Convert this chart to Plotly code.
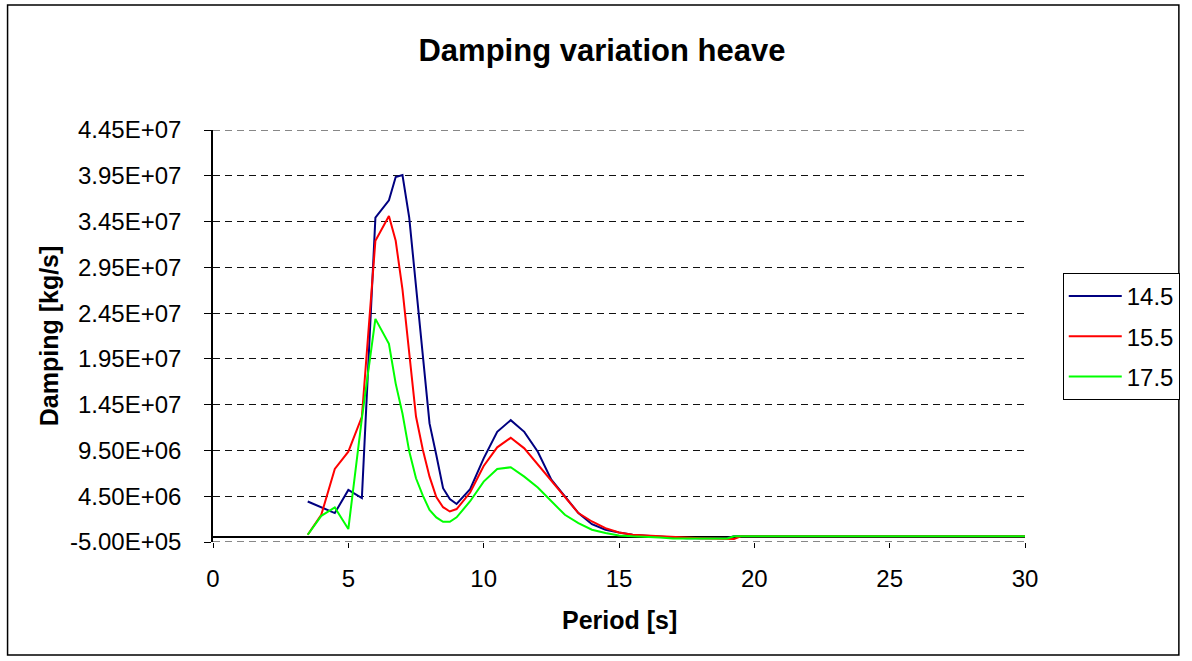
import plotly.graph_objects as go

# period [s]
period = [3.5, 4.0, 4.5, 5.0, 5.5, 6.0, 6.5, 6.75, 7.0, 7.25, 7.5, 7.75, 8.0, 8.25,
          8.5, 8.75, 9.0, 9.5, 10.0, 10.5, 11.0, 11.5, 12.0, 12.5, 13.0, 13.5, 14.0,
          14.5, 15.0, 15.5, 16.0, 16.5, 17.0, 17.5, 18.0, 18.5, 19.0, 19.25, 19.5,
          20.0, 25.0, 30.0]

# damping values, in 1e6 kg/s
damping_145 = [3.92, 3.3, 2.66, 5.19, 4.29, 34.93, 36.82, 39.36, 39.58, 34.93, 27.7,
               20.0, 12.45, 9.0, 5.38, 4.2, 3.65, 5.27, 8.64, 11.53, 12.81, 11.53, 9.36,
               6.3, 4.46, 2.66, 1.45, 0.84, 0.54, 0.29, 0.19, 0.08, -0.06, -0.1, -0.1,
               -0.1, -0.06, 0.12, 0.12, 0.12, 0.12, 0.12]
damping_155 = [0.29, 2.47, 7.48, 9.36, 13.17, 32.4, 35.1, 32.4, 27.1, 20.4, 13.2,
               9.6, 6.64, 4.4, 3.3, 2.83, 3.1, 4.9, 7.8, 9.84, 10.88, 9.73, 7.95,
               6.15, 4.46, 2.66, 1.74, 1.02, 0.54, 0.29, 0.2, 0.12, 0.03, 0.0, -0.08,
               -0.12, -0.18, -0.18, 0.12, 0.12, 0.12, 0.12]
damping_175 = [0.29, 2.36, 3.27, 0.91, 13.0, 23.87, 21.15, 16.8, 13.54, 9.4, 6.46,
               4.6, 3.0, 2.18, 1.7, 1.7, 2.2, 3.95, 6.1, 7.48, 7.66, 6.64, 5.45,
               3.92, 2.47, 1.57, 0.84, 0.48, 0.22, 0.12, 0.08, 0.0, -0.12, -0.12, -0.12,
               -0.12, -0.12, 0.12, 0.12, 0.12, 0.12, 0.12]

series_names = ["14.5", "15.5", "17.5"]
series_colors = ["#000080", "#FF0000", "#00FF00"]

y_ticks = [-5.0e5, 4.5e6, 9.5e6, 1.45e7, 1.95e7, 2.45e7, 2.95e7, 3.45e7, 3.95e7, 4.45e7]
y_ticktext = ["{:.2E}".format(v) for v in y_ticks]
x_ticks = [0, 5, 10, 15, 20, 25, 30]

FONT = "Liberation Sans, Arial, sans-serif"

fig = go.Figure()
for i, (name, vals) in enumerate(zip(series_names, [damping_145, damping_155, damping_175])):
    fig.add_trace(go.Scatter(
        x=period,
        y=[v * 1e6 for v in vals],
        mode="lines",
        name=name,
        legendgroup=name,
        line=dict(color=series_colors[i], width=2),
    ))

# gridlines at the edges of the range (plotly skips those)
edge_grid = [
    dict(type="line", xref="paper", yref="y", x0=0, x1=1, y0=yv, y1=yv,
         line=dict(color="#111111", width=1, dash="7px,5px"), layer="below")
    for yv in (y_ticks[0], y_ticks[-1])
]

fig.update_layout(
    width=1192,
    height=661,
    margin=dict(l=213, r=161, t=130, b=119),
    paper_bgcolor="white",
    plot_bgcolor="white",
    font=dict(family=FONT, size=24, color="black"),
    title=dict(
        text="<b>Damping variation heave</b>",
        font=dict(family=FONT, size=31, color="black"),
        xref="container", x=0.505, xanchor="center",
        yref="container", y=0.924, yanchor="middle",
    ),
    showlegend=True,
    legend=dict(
        x=1.0465, xanchor="left",
        y=0.653, yanchor="top",
        bordercolor="black", borderwidth=1,
        font=dict(family=FONT, size=24, color="black"),
        tracegroupgap=6,
        itemwidth=53,
    ),
    xaxis=dict(
        range=[0, 30],
        tickvals=x_ticks,
        showgrid=False,
        showline=False,
        zeroline=False,
        ticks="outside",
        ticklen=5,
        tickcolor="black",
        ticklabelstandoff=10,
    ),
    yaxis=dict(
        range=[-5.0e5, 4.45e7],
        tickvals=y_ticks,
        ticktext=y_ticktext,
        showgrid=True,
        gridcolor="#111111",
        gridwidth=1,
        griddash="7px,5px",
        showline=True,
        linecolor="black",
        linewidth=1.5,
        zeroline=True,
        zerolinecolor="black",
        zerolinewidth=1.5,
        ticks="outside",
        ticklen=7,
        tickcolor="black",
        ticklabelstandoff=18,
    ),
    annotations=[
        dict(text="<b>Damping [kg/s]</b>", xref="paper", yref="paper",
             x=-0.2017, y=0.5, xanchor="center", yanchor="middle",
             textangle=-90, showarrow=False,
             font=dict(family=FONT, size=25, color="black")),
        dict(text="<b>Period [s]</b>", xref="paper", yref="paper",
             x=0.5, y=-0.189, xanchor="center", yanchor="middle",
             showarrow=False,
             font=dict(family=FONT, size=25, color="black")),
    ],
    shapes=[
        dict(type="rect", xref="paper", yref="paper",
             x0=-0.253, x1=1.1895, y0=-0.2743, y1=1.3034,
             line=dict(color="black", width=1.5), layer="below"),
    ] + edge_grid,
)

fig.write_html("out.html", config={"displayModeBar": False})

# drop the default body margin so the figure sits at the page corner
with open("out.html", encoding="utf-8") as f:
    html = f.read()
html = html.replace("<head>", "<head><style>body{margin:0;overflow:hidden;}</style>", 1)
with open("out.html", "w", encoding="utf-8") as f:
    f.write(html)
